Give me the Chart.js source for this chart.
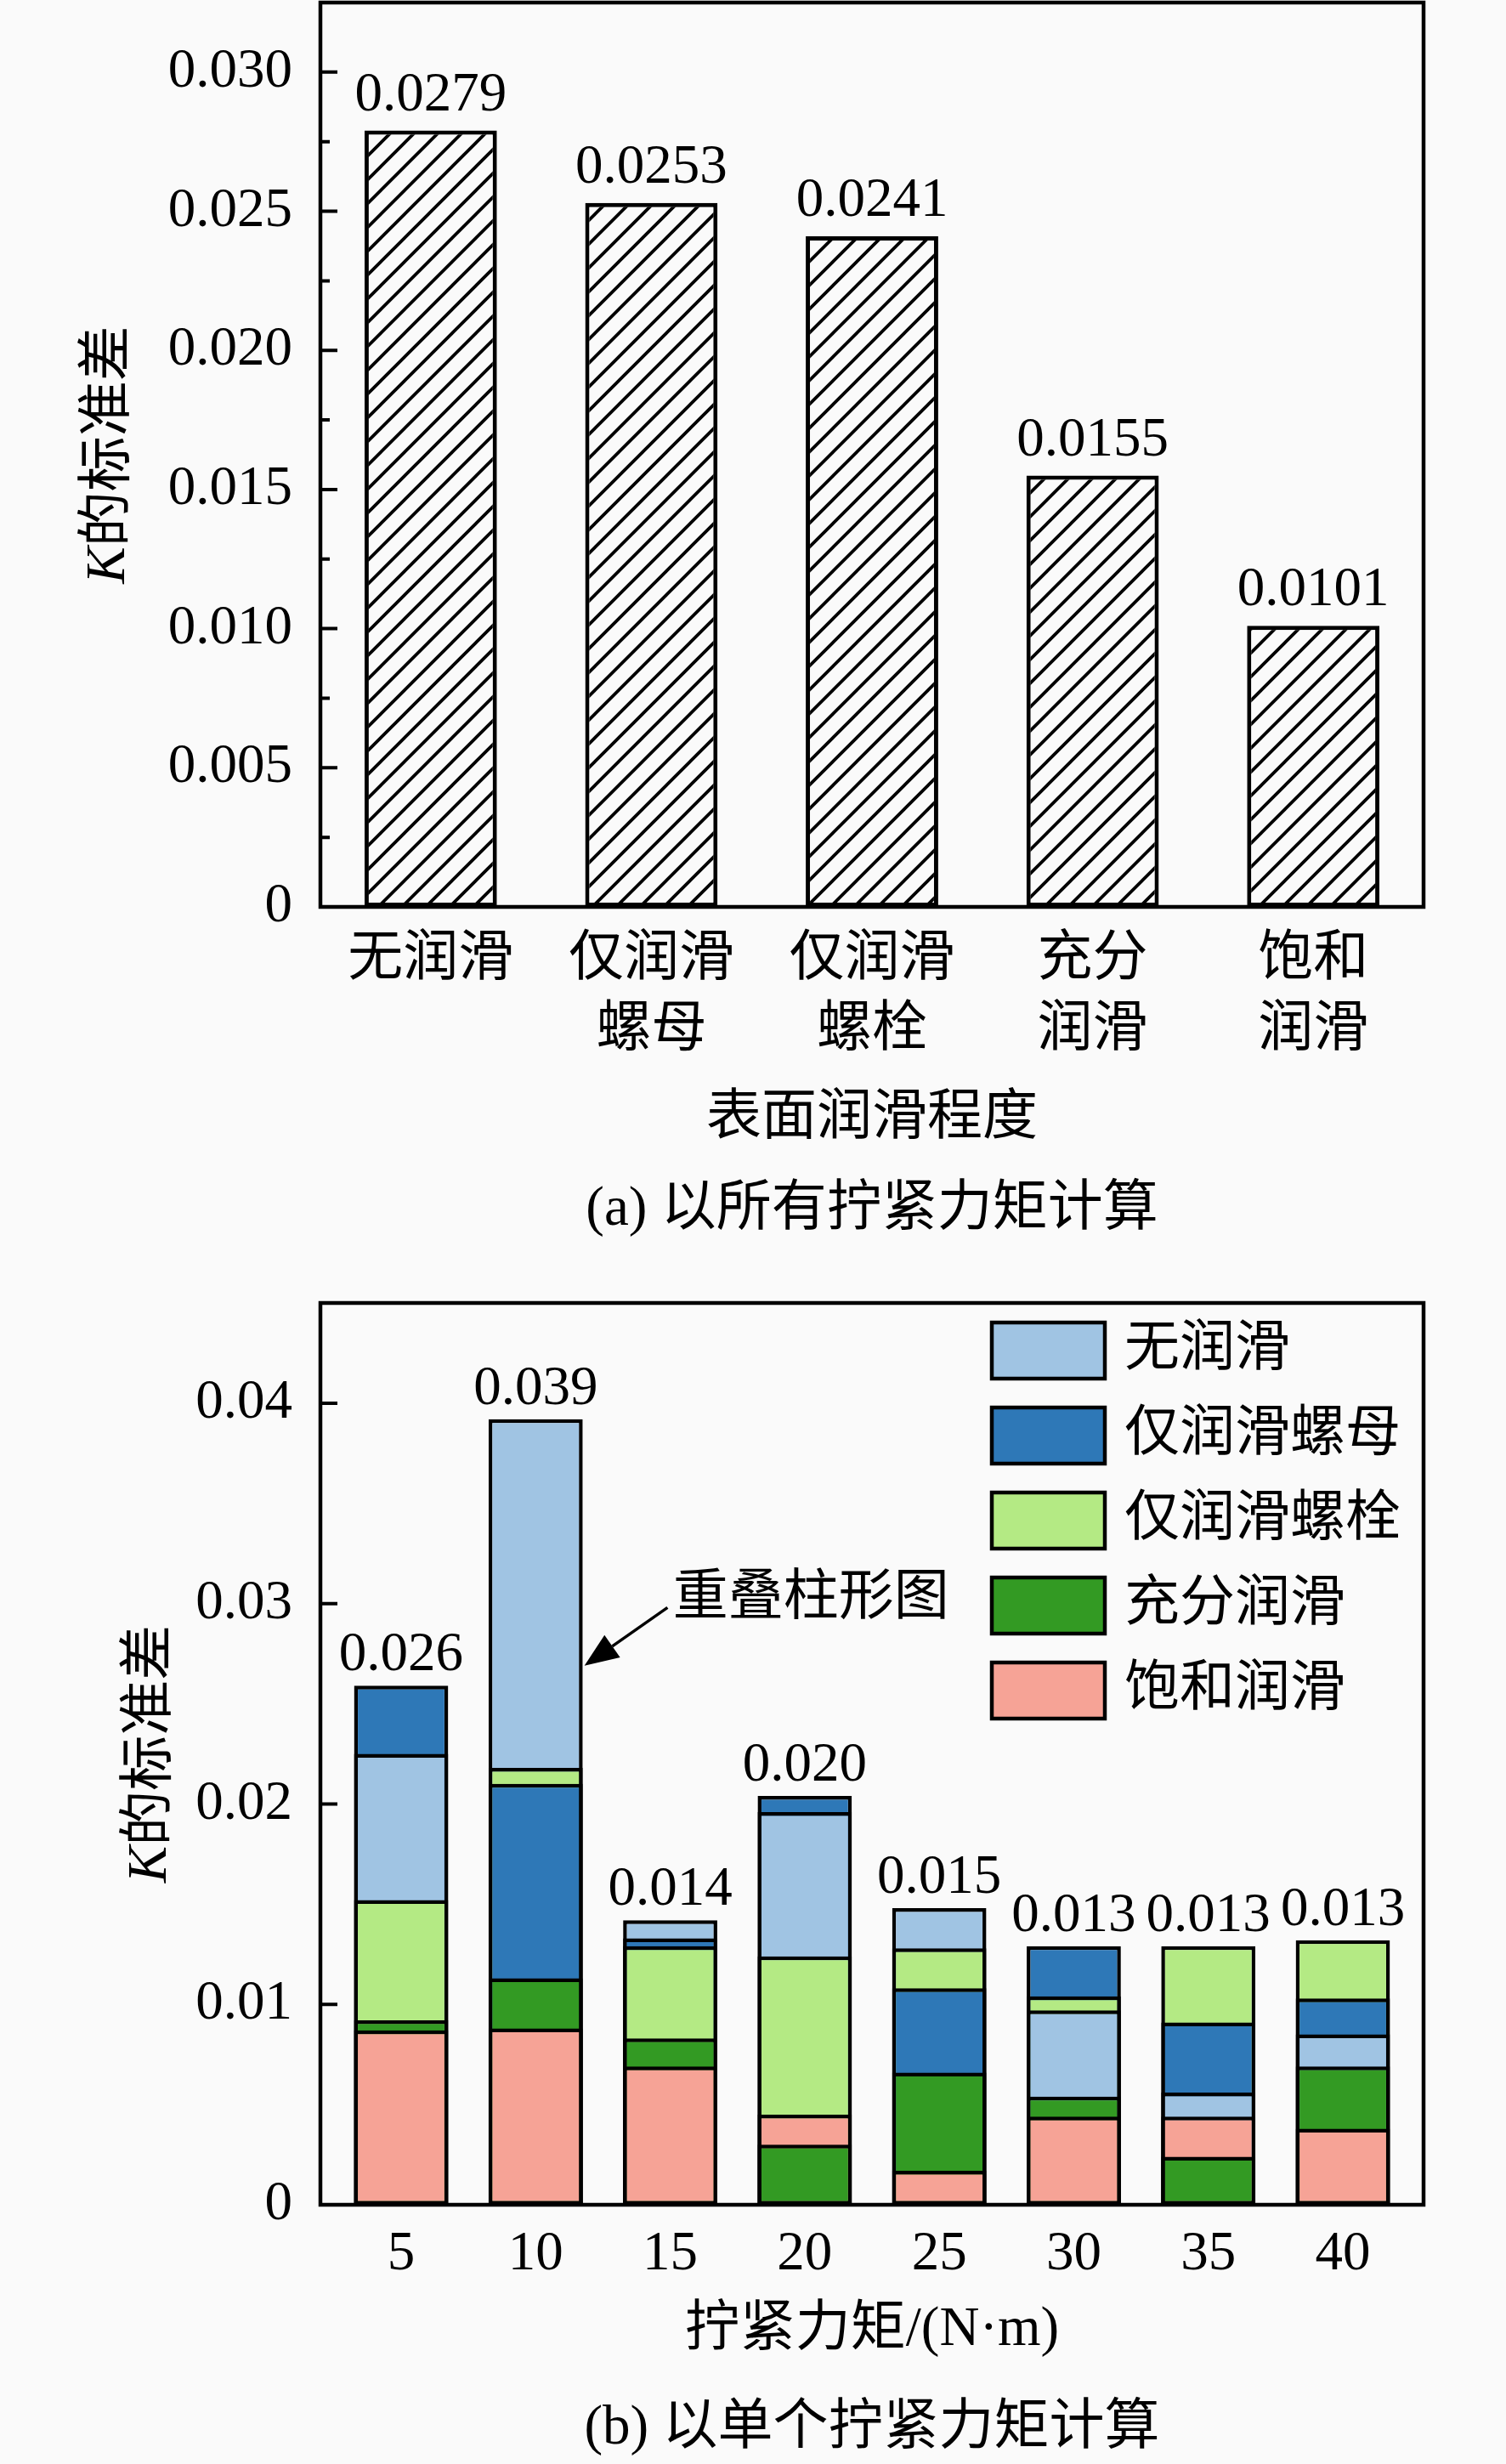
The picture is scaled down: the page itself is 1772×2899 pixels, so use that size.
<!DOCTYPE html>
<html>
<head>
<meta charset="utf-8">
<script src="https://cdn.jsdelivr.net/npm/chart.js@4.4.1/dist/chart.umd.min.js"></script>
<style>
  html, body { margin: 0; padding: 0; background: #fafafa; }
  #wrap { position: relative; width: 1772px; height: 2899px; }
  canvas { position: absolute; left: 0; }
  #chartA { top: 0; }
  #chartB { top: 1460px; }
</style>
</head>
<body>
<div id="wrap">
  <canvas id="chartA" width="1772" height="1460"></canvas>
  <canvas id="chartB" width="1772" height="1439"></canvas>
</div>
<script>
// ---- data (a): all tightening torques ----
const lubLevels = [['无润滑'], ['仅润滑', '螺母'], ['仅润滑', '螺栓'], ['充分', '润滑'], ['饱和', '润滑']];
const stdAll = [0.0279, 0.0253, 0.0241, 0.0155, 0.0101];
const yTicksA = [0, 0.005, 0.010, 0.015, 0.020, 0.025, 0.030];

// ---- data (b): single tightening torque ----
const torque = [5, 10, 15, 20, 25, 30, 35, 40];
const seriesNames = ['无润滑', '仅润滑螺母', '仅润滑螺栓', '充分润滑', '饱和润滑'];
const seriesColors = ['#a0c4e3', '#2e78b7', '#b4ea84', '#339a23', '#f6a396'];
const noLub    = [0.0225, 0.0392, 0.0142, 0.0196, 0.0148, 0.0097, 0.0056, 0.0085];
const nutOnly  = [0.0259, 0.0210, 0.0133, 0.0204, 0.0108, 0.0129, 0.0091, 0.0103];
const boltOnly = [0.0152, 0.0218, 0.0129, 0.0124, 0.0128, 0.0104, 0.0129, 0.0132];
const fullLub  = [0.0092, 0.0113, 0.0083, 0.0030, 0.0066, 0.0054, 0.0024, 0.0069];
const satLub   = [0.0087, 0.0088, 0.0069, 0.0045, 0.0017, 0.0044, 0.0044, 0.0038];
const yTicksB = [0, 0.01, 0.02, 0.03, 0.04];

const FONT = "'Liberation Serif', 'Noto Sans CJK SC', serif";
const BG = '#fafafa';
Chart.defaults.font.family = FONT;
Chart.defaults.font.size = 65;
Chart.defaults.color = '#000';

// hatch pattern ///
function makeHatch(ctx) {
  const c = document.createElement('canvas');
  c.width = c.height = 28;
  const g = c.getContext('2d');
  g.fillStyle = BG;
  g.fillRect(0, 0, 28, 28);
  g.strokeStyle = '#000';
  g.lineWidth = 3.8;
  g.beginPath();
  [[0, 28, 28, 0], [-14, 14, 14, -14], [14, 42, 42, 14]].forEach(([x1, y1, x2, y2]) => {
    g.moveTo(x1, y1); g.lineTo(x2, y2);
  });
  g.stroke();
  return ctx.createPattern(c, 'repeat');
}

// no extra room reserved for half tick labels
function noScalePadding(s) {
  s.paddingTop = 0; s.paddingBottom = 0; s.paddingLeft = 0; s.paddingRight = 0;
}

// ---- helpers for drawing ----
function fillBg(chart) {
  const ctx = chart.ctx;
  ctx.save();
  ctx.fillStyle = BG;
  ctx.fillRect(0, 0, chart.width, chart.height);
  ctx.restore();
}

function drawFrame(chart) {
  const { ctx, chartArea: a } = chart;
  ctx.save();
  ctx.strokeStyle = '#000';
  ctx.lineWidth = 4.5;
  ctx.strokeRect(a.left, a.top, a.right - a.left, a.bottom - a.top);
  ctx.restore();
}

function drawYTicks(chart, minorStep) {
  const { ctx, chartArea: a } = chart;
  const y = chart.scales.y;
  ctx.save();
  ctx.strokeStyle = '#000';
  ctx.lineWidth = 4;
  ctx.beginPath();
  y.ticks.forEach(t => {
    const p = y.getPixelForValue(t.value);
    ctx.moveTo(a.left, p); ctx.lineTo(a.left + 20, p);
    if (minorStep) {
      const m = y.getPixelForValue(t.value + minorStep);
      if (m > a.top + 2) { ctx.moveTo(a.left, m); ctx.lineTo(a.left + 11, m); }
    }
  });
  ctx.stroke();
  ctx.restore();
}

function drawYTitle(chart, cx) {
  const { ctx, chartArea: a } = chart;
  const cy = (a.top + a.bottom) / 2;
  const fi = 'italic 65px ' + FONT, fn = '65px ' + FONT;
  ctx.save();
  ctx.translate(cx, cy);
  ctx.rotate(-Math.PI / 2);
  ctx.fillStyle = '#000';
  ctx.textBaseline = 'middle';
  ctx.textAlign = 'left';
  ctx.font = fi; const wk = ctx.measureText('K').width;
  ctx.font = fn; const wr = ctx.measureText('的标准差').width;
  const x0 = -(wk + wr) / 2;
  ctx.font = fi; ctx.fillText('K', x0, 0);
  ctx.font = fn; ctx.fillText('的标准差', x0 + wk, 0);
  ctx.restore();
}

function drawCentered(chart, text, y) {
  const { ctx, chartArea: a } = chart;
  ctx.save();
  ctx.font = '65px ' + FONT;
  ctx.fillStyle = '#000';
  ctx.textAlign = 'center';
  ctx.textBaseline = 'middle';
  ctx.fillText(text, (a.left + a.right) / 2, y);
  ctx.restore();
}

// ---- chart (a) ----
const ctxA = document.getElementById('chartA').getContext('2d');

const decoA = {
  id: 'decoA',
  beforeDraw: fillBg,
  afterDraw(chart) {
    const ctx = chart.ctx;
    drawFrame(chart);
    drawYTicks(chart, 0.0025);
    drawYTitle(chart, 129);
    drawCentered(chart, '表面润滑程度', 1317);
    drawCentered(chart, '(a) 以所有拧紧力矩计算', 1424);
    ctx.save();
    ctx.font = '65px ' + FONT;
    ctx.fillStyle = '#000';
    ctx.textAlign = 'center';
    ctx.textBaseline = 'alphabetic';
    chart.getDatasetMeta(0).data.forEach((el, i) => {
      ctx.fillText(stdAll[i].toFixed(4), el.x, el.y - 24);
    });
    ctx.restore();
  }
};

new Chart(ctxA, {
  type: 'bar',
  data: {
    labels: lubLevels,
    datasets: [{
      data: stdAll,
      backgroundColor: makeHatch(ctxA),
      borderColor: '#000',
      borderWidth: 5,
      borderSkipped: false,
      barPercentage: 0.6,
      categoryPercentage: 1
    }]
  },
  options: {
    responsive: false,
    devicePixelRatio: 1,
    animation: false,
    layout: { padding: { top: 3, right: 97, left: 0, bottom: 0 } },
    plugins: { legend: { display: false }, tooltip: { enabled: false } },
    scales: {
      x: {
        grid: { display: false },
        border: { display: false },
        ticks: { padding: 14, autoSkip: false, maxRotation: 0, font: { size: 65, lineHeight: 1.27 } },
        afterFit: s => { noScalePadding(s); s.height = 1460 - 1067; }
      },
      y: {
        min: 0,
        max: 0.0325,
        grid: { display: false },
        border: { display: false },
        afterBuildTicks: s => { s.ticks = yTicksA.map(v => ({ value: v })); },
        ticks: { padding: 25, callback: v => (v === 0 ? '0' : v.toFixed(3)) },
        afterFit: s => { noScalePadding(s); s.width = 377; }
      }
    }
  },
  plugins: [decoA]
});

// ---- chart (b): overlapped bars ----
const seriesValues = [noLub, nutOnly, boltOnly, fullLub, satLub];
// per torque, order series from smallest to largest; layer 0 (smallest) is drawn on top
const orderByTorque = torque.map((_, i) =>
  seriesValues.map((_, s) => s).sort((p, q) => seriesValues[p][i] - seriesValues[q][i])
);
const layers = seriesValues.map((_, r) => ({
  data: torque.map((_, i) => seriesValues[orderByTorque[i][r]][i]),
  backgroundColor: torque.map((_, i) => seriesColors[orderByTorque[i][r]]),
  borderColor: '#000',
  borderWidth: 4.5,
  borderSkipped: false,
  grouped: false,
  barPercentage: 0.7,
  categoryPercentage: 1
}));
const maxByTorque = torque.map((_, i) => Math.max(...seriesValues.map(s => s[i])));

const ctxB = document.getElementById('chartB').getContext('2d');

const decoB = {
  id: 'decoB',
  beforeDraw: fillBg,
  afterDraw(chart) {
    const { ctx, chartArea: a } = chart;
    const x = chart.scales.x, y = chart.scales.y;
    drawFrame(chart);
    drawYTicks(chart, 0);
    drawYTitle(chart, 178);
    drawCentered(chart, '拧紧力矩/(N·m)', 1282);
    drawCentered(chart, '(b) 以单个拧紧力矩计算', 1398);

    ctx.save();
    ctx.font = '65px ' + FONT;
    ctx.fillStyle = '#000';
    ctx.textAlign = 'center';
    ctx.textBaseline = 'alphabetic';
    const topMeta = chart.getDatasetMeta(layers.length - 1);
    topMeta.data.forEach((el, i) => {
      ctx.fillText(maxByTorque[i].toFixed(3), el.x, el.y - 18);
    });

    // legend inside plot
    seriesNames.forEach((name, i) => {
      const cy = a.top + 56 + i * 100;
      ctx.fillStyle = seriesColors[i];
      ctx.fillRect(a.right - 508, cy - 33, 133, 66);
      ctx.strokeStyle = '#000';
      ctx.lineWidth = 4.5;
      ctx.strokeRect(a.right - 508, cy - 33, 133, 66);
      ctx.fillStyle = '#000';
      ctx.textAlign = 'left';
      ctx.textBaseline = 'middle';
      ctx.fillText(name, a.right - 352, cy);
    });

    // annotation arrow to the 10 N·m bar
    const bar10 = topMeta.data[1];
    const tipX = bar10.x + bar10.width / 2 + 2, tipY = y.getPixelForValue(0.0269);
    const sx = x.getPixelForValue(14.9), sy = y.getPixelForValue(0.0298);
    const ang = Math.atan2(tipY - sy, tipX - sx);
    const hl = 40, hw = 16;
    const bx = tipX - hl * Math.cos(ang), by = tipY - hl * Math.sin(ang);
    ctx.strokeStyle = '#000';
    ctx.lineWidth = 3.5;
    ctx.beginPath(); ctx.moveTo(sx, sy); ctx.lineTo(bx, by); ctx.stroke();
    ctx.beginPath();
    ctx.moveTo(tipX, tipY);
    ctx.lineTo(bx + hw * Math.sin(ang), by - hw * Math.cos(ang));
    ctx.lineTo(bx - hw * Math.sin(ang), by + hw * Math.cos(ang));
    ctx.closePath();
    ctx.fillStyle = '#000';
    ctx.fill();
    ctx.textAlign = 'left';
    ctx.textBaseline = 'middle';
    ctx.fillText('重叠柱形图', x.getPixelForValue(15.1), y.getPixelForValue(0.0302));
    ctx.restore();
  }
};

new Chart(ctxB, {
  type: 'bar',
  data: { labels: torque, datasets: layers },
  options: {
    responsive: false,
    devicePixelRatio: 1,
    animation: false,
    layout: { padding: { top: 73, right: 97, left: 0, bottom: 0 } },
    plugins: { legend: { display: false }, tooltip: { enabled: false } },
    scales: {
      x: {
        type: 'linear',
        min: 2,
        max: 43,
        offset: false,
        grid: { display: false, offset: false },
        border: { display: false },
        afterBuildTicks: s => { s.ticks = torque.map(v => ({ value: v })); },
        ticks: { padding: 12, autoSkip: false, maxRotation: 0, callback: v => String(v), font: { size: 65, lineHeight: 1.2 } },
        afterFit: s => { noScalePadding(s); s.height = 1439 - 1134; }
      },
      y: {
        min: 0,
        max: 0.045,
        grid: { display: false },
        border: { display: false },
        afterBuildTicks: s => { s.ticks = yTicksB.map(v => ({ value: v })); },
        ticks: { padding: 25, callback: v => (v === 0 ? '0' : v.toFixed(2)) },
        afterFit: s => { noScalePadding(s); s.width = 377; }
      }
    }
  },
  plugins: [decoB]
});
</script>
</body>
</html>
